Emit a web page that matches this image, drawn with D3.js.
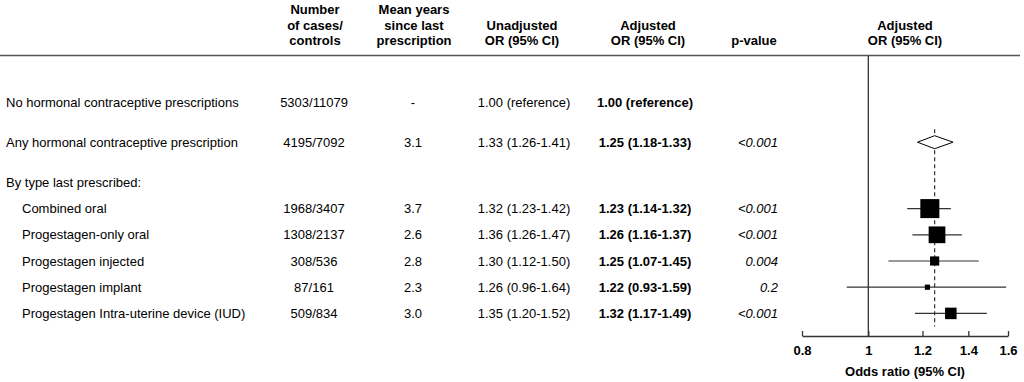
<!DOCTYPE html>
<html>
<head>
<meta charset="utf-8">
<script src="https://cdn.jsdelivr.net/npm/d3@7"></script>
<style>
  html, body { margin: 0; padding: 0; background: #fff; }
  svg text { font-family: "Liberation Sans", Arial, sans-serif; font-size: 13px; fill: #000; }
</style>
</head>
<body>
<div id="chart"></div>
<script>
// table rows
const rowLabels = [
  "No hormonal contraceptive prescriptions",
  "Any hormonal contraceptive prescription",
  "By type last prescribed:",
  "Combined oral",
  "Progestagen-only oral",
  "Progestagen injected",
  "Progestagen implant",
  "Progestagen Intra-uterine device (IUD)"
];
const rowLevel = [0, 0, 0, 1, 1, 1, 1, 1];
const rowGroup = [0, 1, 2, 2, 2, 2, 2, 2];
const casesControls = ["5303/11079", "4195/7092", "", "1968/3407", "1308/2137", "308/536", "87/161", "509/834"];
const meanYears = ["-", "3.1", "", "3.7", "2.6", "2.8", "2.3", "3.0"];
const unadjOR = [1.00, 1.33, null, 1.32, 1.36, 1.30, 1.26, 1.35];
const unadjLo = [null, 1.26, null, 1.23, 1.26, 1.12, 0.96, 1.20];
const unadjHi = [null, 1.41, null, 1.42, 1.47, 1.50, 1.64, 1.52];
const adjOR = [1.00, 1.25, null, 1.23, 1.26, 1.25, 1.22, 1.32];
const adjLo = [null, 1.18, null, 1.14, 1.16, 1.07, 0.93, 1.17];
const adjHi = [null, 1.33, null, 1.32, 1.37, 1.45, 1.59, 1.49];
const pValues = ["", "<0.001", "", "<0.001", "<0.001", "0.004", "0.2", "<0.001"];
const markerType = ["none", "diamond", "none", "square", "square", "square", "square", "square"];
const tickValues = [0.8, 1, 1.2, 1.4, 1.6];
const pooledOR = 1.25;

const W = 1024, H = 382;
const svg = d3.select('#chart').append('svg').attr('width', W).attr('height', H);

const rowY = i => 102 + i * 26.2 + rowGroup[i] * 14;
const f2 = d3.format('.2f');
const orText = (or, lo, hi) => or == null ? '' : (lo == null ? f2(or) + ' (reference)' : `${f2(or)} (${f2(lo)}-${f2(hi)})`);

// headers
const headers = [
  {lines: ['Number', 'of cases/', 'controls'], x: 315},
  {lines: ['Mean years', 'since last', 'prescription'], x: 414},
  {lines: ['Unadjusted', 'OR (95% CI)'], x: 522},
  {lines: ['Adjusted', 'OR (95% CI)'], x: 648},
  {lines: ['p-value'], x: 754},
  {lines: ['Adjusted', 'OR (95% CI)'], x: 905}
];
headers.forEach(h => {
  const start = 45 - (h.lines.length - 1) * 15.5;
  h.lines.forEach((t, k) => {
    svg.append('text').attr('x', h.x).attr('y', start + k * 15.5)
      .attr('text-anchor', 'middle').attr('font-weight', 'bold').text(t);
  });
});
svg.append('line').attr('x1', 0).attr('x2', 1020).attr('y1', 55.5).attr('y2', 55.5)
  .attr('stroke', '#555').attr('stroke-width', 1.5);

// table body
const rows = svg.append('g');
rowLabels.forEach((lab, i) => {
  const y = rowY(i);
  const g = rows.append('g').attr('transform', `translate(0,${y})`);
  g.append('text').attr('x', rowLevel[i] ? 22 : 6).attr('dy', '0.35em').text(lab);
  g.append('text').attr('x', 314).attr('dy', '0.35em').attr('text-anchor', 'middle').text(casesControls[i]);
  g.append('text').attr('x', 413).attr('dy', '0.35em').attr('text-anchor', 'middle').text(meanYears[i]);
  g.append('text').attr('x', 524).attr('dy', '0.35em').attr('text-anchor', 'middle').text(orText(unadjOR[i], unadjLo[i], unadjHi[i]));
  g.append('text').attr('x', 645).attr('dy', '0.35em').attr('text-anchor', 'middle').attr('font-weight', 'bold').text(orText(adjOR[i], adjLo[i], adjHi[i]));
  g.append('text').attr('x', 778).attr('dy', '0.35em').attr('text-anchor', 'end').attr('font-style', 'italic').text(pValues[i]);
});

// forest plot
const x = d3.scaleLog().domain([0.8, 1.6]).range([802, 1008]);
const axisY = 336;

// box size from inverse-variance weight
const weights = adjOR.map((d, i) => markerType[i] === 'square' ? 1 / Math.pow(Math.log(adjHi[i] / adjLo[i]) / 3.92, 2) : 0);
const size = d3.scaleSqrt().domain([0, d3.max(weights)]).range([0, 19]);

svg.append('line').attr('x1', x(1)).attr('x2', x(1)).attr('y1', 55.5).attr('y2', axisY)
  .attr('stroke', '#333').attr('stroke-width', 1.3);

const anyIdx = markerType.indexOf('diamond');
svg.append('line').attr('x1', x(pooledOR)).attr('x2', x(pooledOR))
  .attr('y1', rowY(anyIdx) - 13).attr('y2', rowY(rowLabels.length - 1) + 13)
  .attr('stroke', '#333').attr('stroke-width', 1.2).attr('stroke-dasharray', '4,3');

const forest = svg.append('g');
adjOR.forEach((or, i) => {
  const y = rowY(i);
  if (markerType[i] === 'square') {
    forest.append('line').attr('x1', x(adjLo[i])).attr('x2', x(adjHi[i])).attr('y1', y).attr('y2', y)
      .attr('stroke', '#333').attr('stroke-width', 1.2);
    const s = size(weights[i]);
    forest.append('rect').attr('x', x(or) - s / 2).attr('y', y - s / 2).attr('width', s).attr('height', s)
      .attr('fill', '#000');
  } else if (markerType[i] === 'diamond') {
    const pts = [[x(adjLo[i]), y], [x(or), y - 6.5], [x(adjHi[i]), y], [x(or), y + 6.5]];
    forest.append('polygon').attr('points', pts.map(p => p.join(',')).join(' '))
      .attr('fill', '#fff').attr('stroke', '#000').attr('stroke-width', 1);
  }
});

const axis = d3.axisBottom(x).tickValues(tickValues).tickFormat(d => d3.format('')(d))
  .tickSizeInner(-5).tickSizeOuter(0).tickPadding(10);
const ag = svg.append('g').attr('transform', `translate(0,${axisY})`).call(axis);
ag.select('.domain').attr('stroke', '#333').attr('stroke-width', 1.3);
ag.selectAll('.tick line').attr('stroke', '#333').attr('stroke-width', 1.3);
ag.selectAll('.tick text').attr('font-size', 13).attr('font-weight', 'bold')
  .attr('font-family', '"Liberation Sans", Arial, sans-serif').attr('fill', '#000');

svg.append('text').attr('x', (x.range()[0] + x.range()[1]) / 2).attr('y', 376)
  .attr('text-anchor', 'middle').attr('font-weight', 'bold').text('Odds ratio (95% CI)');
</script>
</body>
</html>
